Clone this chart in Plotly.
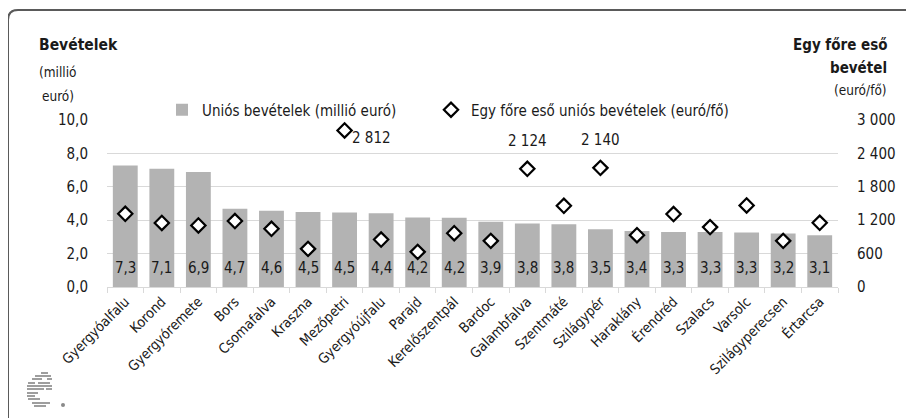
import plotly.graph_objects as go

categories = ["Gyergyóalfalu", "Korond", "Gyergyóremete", "Bors", "Csomafalva", "Kraszna",
              "Mezőpetri", "Gyergyóújfalu", "Parajd", "Kerelőszentpál", "Bardoc", "Galambfalva",
              "Szentmáté", "Szilágypér", "Haraklány", "Érendréd", "Szalacs", "Varsolc",
              "Szilágyperecsen", "Értarcsa"]
eu_revenue = [7.27, 7.08, 6.88, 4.68, 4.56, 4.49, 4.46, 4.41, 4.16, 4.15, 3.90, 3.80, 3.76,
              3.46, 3.36, 3.30, 3.29, 3.27, 3.20, 3.10]
per_capita = [1315, 1150, 1105, 1185, 1045, 685, 2812, 852, 631, 967, 829, 2124, 1459, 2140,
              931, 1310, 1076, 1465, 829, 1153]
labelled_points = ["Mezőpetri", "Galambfalva", "Szilágypér"]
left_ticks = [0, 2, 4, 6, 8, 10]
right_ticks = [0, 600, 1200, 1800, 2400, 3000]

FONT = "Liberation Sans Narrow, DejaVu Sans Condensed, Arial Narrow, sans-serif"
TXT = "#1a1a1a"

# The page body has an 8px margin; the figure is sized so it ends at the window edge.
OFF = 8
W, H = 914 - OFF, 418 - OFF
# plot area in window pixels: x 107..838, y 120..287
PX0, PX1, PY0, PY1 = 107, 838, 120, 287
L, R, T, B = PX0 - OFF, 914 - PX1, PY0 - OFF, 418 - PY1
PW, PH = PX1 - PX0, PY1 - PY0
def X(px):
    return (px - PX0) / PW
def Y(py):
    return (PY1 - py) / PH

fig = go.Figure()
fig.add_trace(go.Bar(
    x=categories, y=eu_revenue, name="Uniós bevételek (millió euró)",
    marker=dict(color="#b3b3b3", line=dict(width=0)), yaxis="y", legend="legend",
    showlegend=True, hoverinfo="skip"))
fig.add_trace(go.Scatter(
    x=categories, y=per_capita, name="Egy főre eső uniós bevételek (euró/fő)",
    mode="markers", yaxis="y2", legend="legend2", showlegend=True,
    marker=dict(symbol="diamond", size=11, color="white", line=dict(color="black", width=2.2))))

annotations = []
for c, v in zip(categories, eu_revenue):
    annotations.append(dict(x=c, y=1.15, xref="x", yref="y", text=f"{v:.1f}".replace(".", ","),
                            showarrow=False, font=dict(family=FONT, size=15, color=TXT)))
for c, v in zip(categories, per_capita):
    if c in labelled_points:
        txt = f"{v:,}".replace(",", " ")
        if c == "Mezőpetri":
            annotations.append(dict(x=c, y=v, xref="x", yref="y2", text=txt, showarrow=False,
                                    xanchor="left", xshift=5, yshift=-8,
                                    font=dict(family=FONT, size=15, color=TXT)))
        else:
            annotations.append(dict(x=c, y=v, xref="x", yref="y2", text=txt, showarrow=False,
                                    yanchor="bottom", yshift=17,
                                    font=dict(family=FONT, size=15, color=TXT)))

# axis titles
def title(px, py, text, anchor, size):
    return dict(x=X(px), y=Y(py), xref="paper", yref="paper", text=text, showarrow=False,
                xanchor=anchor, yanchor="middle", font=dict(family=FONT, size=size, color=TXT))

annotations += [
    title(37, 45, "<b>Bevételek</b>", "left", 15.5),
    title(37, 72, "(millió", "left", 13.5),
    title(40, 96, "euró)", "left", 13.5),
    title(889, 45, "<b>Egy főre eső</b>", "right", 15),
    title(889, 68, "<b>bevétel</b>", "right", 15),
    title(889, 90, "(euró/fő)", "right", 13.5),
]

shapes = []
# rounded frame (cut off at right and bottom)
rx, ry = 10 / PW, 10 / PH
x0, y0 = X(8), Y(10)
shapes.append(dict(type="path", xref="paper", yref="paper",
                   path=f"M {x0},{Y(430)} L {x0},{y0 - ry} Q {x0},{y0} {x0 + rx},{y0} L {X(930)},{y0}",
                   line=dict(color="#5a5a5a", width=2)))
# small logo (striped globe + dot)
logo_lines = [(41, 48, 373), (35, 51, 376), (32, 42, 379), (47, 52, 379), (28, 35, 383), (38, 50, 383),
              (27, 52, 386), (27, 44, 389), (46, 52, 389), (27, 38, 393), (27, 35, 396),
              (28, 40, 399), (32, 50, 403), (34, 46, 406)]
for a, b, yy in logo_lines:
    shapes.append(dict(type="line", xref="paper", yref="paper", x0=X(a), x1=X(b), y0=Y(yy), y1=Y(yy),
                       line=dict(color="#6a6a6a", width=1.3)))
shapes.append(dict(type="circle", xref="paper", yref="paper", x0=X(61), x1=X(65), y0=Y(403), y1=Y(407),
                   fillcolor="#8a8a8a", line=dict(width=0)))

fig.update_layout(
    template="none",
    width=W, height=H, margin=dict(l=L, r=R, t=T, b=B, autoexpand=False),
    paper_bgcolor="white", plot_bgcolor="white",
    separators=", ",
    font=dict(family=FONT, size=15, color=TXT),
    bargap=0.32,
    xaxis=dict(type="category", tickangle=-45, tickson="boundaries", ticks="outside", ticklen=5,
               tickcolor="#d9d9d9", showline=True, linecolor="#d9d9d9", linewidth=1,
               automargin=False, range=[-0.5, len(categories) - 0.5],
               showgrid=False, tickfont=dict(family=FONT, size=14, color=TXT)),
    yaxis=dict(range=[0, 10], tickvals=left_ticks, tickformat=".1f", showgrid=True,
               gridcolor="#d9d9d9", gridwidth=1, zeroline=False, ticks="", ticklabelstandoff=18,
               automargin=False, showline=False,
               tickfont=dict(family=FONT, size=15, color=TXT)),
    yaxis2=dict(range=[0, 3000], tickvals=right_ticks, tickformat=",d", overlaying="y", side="right",
                showgrid=False, zeroline=False, ticks="", ticklabelstandoff=18, automargin=False,
                showline=False, tickfont=dict(family=FONT, size=15, color=TXT)),
    showlegend=True,
    legend=dict(orientation="h", x=X(162), y=Y(110), xanchor="left", yanchor="middle",
                bgcolor="rgba(0,0,0,0)", font=dict(family=FONT, size=15, color=TXT)),
    legend2=dict(orientation="h", x=X(431), y=Y(110), xanchor="left", yanchor="middle",
                 bgcolor="rgba(0,0,0,0)", font=dict(family=FONT, size=15, color=TXT)),
    annotations=annotations, shapes=shapes,
)

fig.write_html("out.html")
